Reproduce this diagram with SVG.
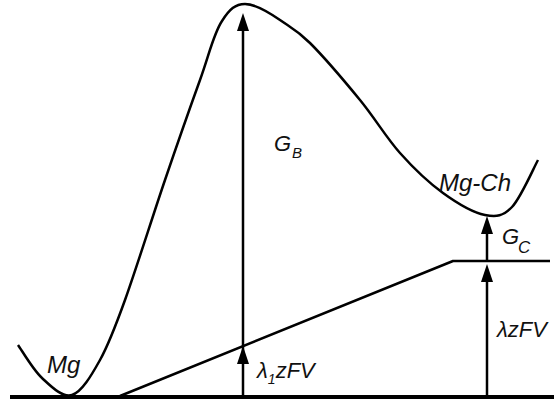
<svg xmlns="http://www.w3.org/2000/svg" width="554" height="400" viewBox="0 0 554 400">
<style>
.ln{fill:none;stroke:#000;stroke-width:2.5;stroke-linecap:butt;stroke-linejoin:round}
.hd{fill:#000;stroke:none}
.t{font-family:"Liberation Sans",Arial,sans-serif;font-style:italic;fill:#111}
</style>
<rect width="554" height="400" fill="#fff"/>
<g id="curve">
<path class="ln" d="M18,345 C22,350.5 33,369.7 42,378 C51,386.3 62.3,398 72,395 C81.7,392 91.2,375.8 100,360 C108.8,344.2 114.2,330 125,300 C135.8,270 152.5,216.7 165,180 C177.5,143.3 190.5,106.3 200,80 C209.5,53.7 213.5,33.7 222,21 C229.5,9.3 235.3,4 245,4 C254.7,4 269.2,12.5 280,20 C290.8,27.5 296.7,29.7 310,43 C323.3,56.3 345,81.7 360,100 C375,118.3 386.2,137.5 400,153 C413.8,168.5 428.8,182.7 443,193 C457.2,203.3 473.5,212.7 485,215 C496.5,217.3 503.2,216.2 512,207 C520.8,197.8 533.7,167.8 538,160"/>
</g>
<g id="baseline">
<line x1="10" y1="397" x2="554" y2="397" stroke="#000" stroke-width="4"/>
</g>
<g id="potential">
<polyline class="ln" points="120,396 453,261 550,261"/>
</g>
<g id="connectors">
<line class="ln" x1="243" y1="397" x2="243" y2="28"/>
<polygon class="hd" points="243,13 237,31 249,31"/>
<polygon class="hd" points="243,346 237,364 249,364"/>
<line class="ln" x1="487" y1="397" x2="487" y2="278"/>
<polygon class="hd" points="487,264 481,282 493,282"/>
<line class="ln" x1="487" y1="261" x2="487" y2="230"/>
<polygon class="hd" points="487,216 481,234 493,234"/>
</g>
<g id="label-Mg"><text class="t" x="47" y="373" font-size="24">Mg</text></g>
<g id="label-GB"><text class="t" x="274" y="151" font-size="22">G</text><text class="t" x="292" y="158" font-size="15">B</text></g>
<g id="label-MgCh"><text class="t" x="439" y="191" font-size="24">Mg-Ch</text></g>
<g id="label-GC"><text class="t" x="502" y="244" font-size="22">G</text><text class="t" x="518" y="253" font-size="17">C</text></g>
<g id="label-l1zFV"><text class="t" x="257" y="378" font-size="22">λ<tspan font-size="14" dy="6">1</tspan><tspan dy="-6">zFV</tspan></text></g>
<g id="label-lzFV"><text class="t" x="497" y="337" font-size="22">λzFV</text></g>
</svg>
